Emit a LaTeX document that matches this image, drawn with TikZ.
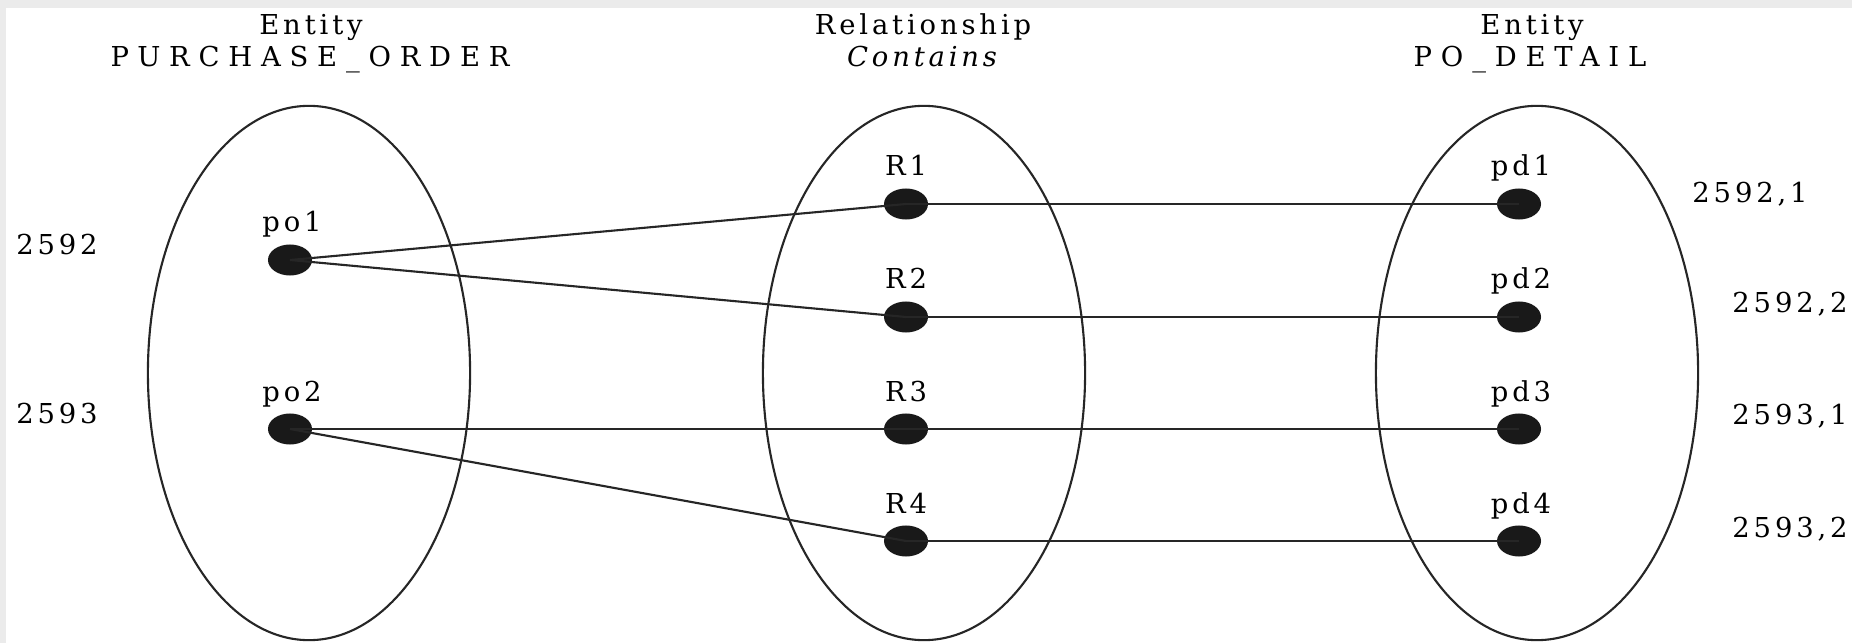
\documentclass[tikz,border=0pt]{standalone}
\usepackage{fontspec}
\setmainfont{DejaVu Serif}[LetterSpace=14]
\newfontfamily\capsfont{DejaVu Serif}[LetterSpace=32]
\usepackage{tikz}
\usetikzlibrary{shapes.geometric}

\begin{document}
\begin{tikzpicture}[x=0.01cm, y=-0.01cm,
    every node/.style={font=\fontsize{7.8}{9.4}\selectfont, text=black},
    setshape/.style={ellipse, draw=black!85, line width=0.6pt, minimum width=3.22cm, minimum height=5.34cm, inner sep=0pt},
    elem/.style={ellipse, fill=black!90, minimum width=0.44cm, minimum height=0.31cm, inner sep=0pt},
    lbl/.style={anchor=base, inner sep=0pt},
    wire/.style={draw=black!85, line width=0.6pt}]
				% Paths, nodes and wires:
				\useasboundingbox (0,0) rectangle (1852,643);
				\fill[black!8] (0,0) rectangle (1852,643);
				\fill[white] (6,8) rectangle (1852,643);
				
				\node[lbl] (entA) at (311,35) {Entity};
				\node[lbl] (nameA) at (310,67) {\capsfont PURCHASE\_ORDER};
				\node[lbl] (relB) at (923,35) {Relationship};
				\node[lbl] (nameB) at (924,67) {\textit{Contains}};
				\node[lbl] (entC) at (1532,35) {Entity};
				\node[lbl] (nameC) at (1530,67) {\capsfont PO\_DETAIL};
				
				\node[setshape] (setA) at (309,373) {};
				\node[setshape] (setB) at (924,373) {};
				\node[setshape] (setC) at (1537,373) {};
				
				\node[elem] (po1) at (290,260) {};
				\node[elem] (po2) at (290,429) {};
				\node[lbl] (po1t) at (292,232) {po1};
				\node[lbl] (po2t) at (292,401) {po2};
				\node[lbl] (k1) at (57,255) {2592};
				\node[lbl] (k2) at (57,423) {2593};
				
				\node[elem] (R1) at (906,204) {};
				\node[elem] (R2) at (906,317) {};
				\node[elem] (R3) at (906,429) {};
				\node[elem] (R4) at (906,541) {};
				\node[lbl] (R1t) at (906,176) {R1};
				\node[lbl] (R2t) at (906,289) {R2};
				\node[lbl] (R3t) at (906,401) {R3};
				\node[lbl] (R4t) at (906,513) {R4};
				
				\node[elem] (pd1) at (1519,204) {};
				\node[elem] (pd2) at (1519,317) {};
				\node[elem] (pd3) at (1519,429) {};
				\node[elem] (pd4) at (1519,541) {};
				\node[lbl] (pd1t) at (1521,176) {pd1};
				\node[lbl] (pd2t) at (1521,289) {pd2};
				\node[lbl] (pd3t) at (1521,401) {pd3};
				\node[lbl] (pd4t) at (1521,513) {pd4};
				\node[lbl] (k11) at (1750,203) {2592,1};
				\node[lbl] (k12) at (1790,313) {2592,2};
				\node[lbl] (k21) at (1790,425) {2593,1};
				\node[lbl] (k22) at (1790,537) {2593,2};
				
				\draw[wire] (po1.center) -- (R1.center);
				\draw[wire] (po1.center) -- (R2.center);
				\draw[wire] (po2.center) -- (R3.center);
				\draw[wire] (po2.center) -- (R4.center);
				\draw[wire] (R1.center) -- (pd1.center);
				\draw[wire] (R2.center) -- (pd2.center);
				\draw[wire] (R3.center) -- (pd3.center);
				\draw[wire] (R4.center) -- (pd4.center);
\end{tikzpicture}
\end{document}
